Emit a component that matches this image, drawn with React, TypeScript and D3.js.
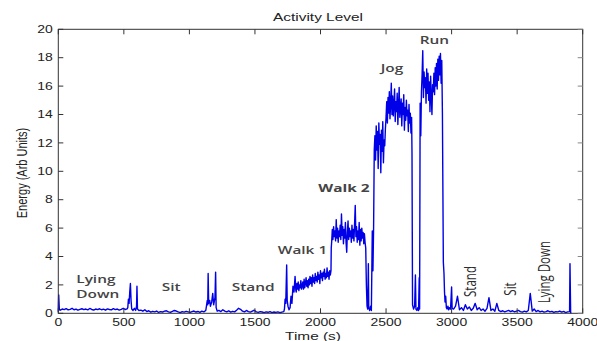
import React from 'react';
import * as d3 from 'd3';

const xTicks = [0, 500, 1000, 1500, 2000, 2500, 3000, 3500, 4000];
const yTicks = [0, 2, 4, 6, 8, 10, 12, 14, 16, 18, 20];

// quiet periods, one value every 15 s
const lyingDown = [0.22, 0.3, 0.26, 0.33, 0.24, 0.28, 0.35, 0.25, 0.3, 0.22, 0.27, 0.32, 0.26, 0.3, 0.24, 0.34, 0.27, 0.23, 0.3, 0.26, 0.32, 0.25, 0.29, 0.22, 0.31, 0.27, 0.24, 0.33, 0.26, 0.3, 0.23, 0.28, 0.35, 0.27, 0.31];
const sit = [0.22, 0.15, 0.25, 0.12, 0.18, 0.08, 0.14, 0.1, 0.16, 0.06, 0.12, 0.09, 0.15, 0.18, 0.1, 0.07, 0.13, 0.2, 0.16, 0.1, 0.05, 0.12, 0.08, 0.14, 0.1, 0.06, 0.12, 0.16, 0.09, 0.13, 0.07, 0.15, 0.1, 0.2];
const stand = [0.2, 0.12, 0.25, 0.15, 0.1, 0.18, 0.08, 0.14, 0.1, 0.22, 0.35, 0.28, 0.15, 0.1, 0.2, 0.12, 0.08, 0.15, 0.22, 0.1, 0.06, 0.12, 0.09, 0.05, 0.1, 0.07, 0.12, 0.05, 0.09, 0.06, 0.1, 0.04, 0.08, 0.12];
const standSitLie = [0.3, 0.5, 1.2, 0.25, 0.4, 0.2, 0.6, 0.3, 0.45, 0.2, 0.35, 0.7, 0.25, 0.4, 0.2, 0.3, 0.15, 0.35, 1.1, 0.2, 0.3, 0.15, 0.7, 0.2, 0.12, 0.18, 0.1, 0.15, 0.2, 0.12, 0.18, 0.1, 0.15, 0.2, 0.12, 0.08, 0.15, 0.1, 0.2, 1.4, 0.15, 0.3, 0.12, 0.2, 0.1, 0.15, 0.08, 0.12, 0.18, 0.1, 0.14, 0.06, 0.12, 0.1, 0.16, 0.08, 0.13, 0.05, 0.1, 0.12];

// active periods, one value every 5 s
const walk1 = [1.5, 2.1, 1.7, 2.2, 1.6, 2.0, 1.8, 2.3, 1.7, 1.95, 2.2, 1.7, 2.4, 1.8, 2.1, 2.5, 1.9, 2.3, 1.8, 2.4, 2.0, 2.6, 2.1, 2.5, 1.9, 2.7, 2.2, 2.5, 2.1, 2.8, 2.3, 2.6, 2.2, 2.9, 2.4, 2.7, 2.1, 3.0, 2.5, 2.8, 2.3, 2.9, 2.6, 3.1, 2.4, 2.8, 2.5, 3.2, 2.6, 2.9, 2.4, 3.0, 2.7];
const walk2 = [5.0, 5.9, 5.2, 6.1, 5.4, 5.8, 5.1, 6.6, 5.3, 6.0, 5.0, 5.8, 5.4, 6.2, 5.2, 7.0, 5.5, 6.1, 4.9, 5.9, 5.3, 6.4, 5.0, 4.3, 5.7, 6.5, 5.2, 6.0, 5.4, 5.8, 5.0, 6.2, 5.3, 5.9, 5.1, 6.3, 7.6, 5.4, 6.1, 5.0, 5.8, 5.2, 6.4, 4.8, 5.9, 5.1, 6.0, 5.3, 5.7, 4.9, 5.6, 5.0];
const jogStart = [12.5, 10.8, 13.2, 11.5, 12.8, 10.2, 13.4, 11.9, 12.6, 9.9, 12.9, 11.4, 13.5, 10.6, 12.2, 11.8, 13.0];
const jog = [13.8, 14.9, 13.4, 15.2, 14.1, 15.6, 13.7, 14.8, 16.2, 14.0, 15.3, 13.9, 14.7, 15.8, 13.5, 14.9, 14.2, 15.5, 13.3, 14.6, 15.9, 13.8, 14.4, 15.1, 13.2, 14.8, 14.0, 15.4, 12.9, 14.5, 13.6, 15.0, 13.9, 14.3, 12.8, 14.7, 13.4, 14.1, 12.7, 13.8];
const run = [15.6, 16.8, 18.5, 15.2, 17.0, 15.9, 16.6, 14.8, 17.2, 15.5, 16.9, 15.0, 16.3, 14.2, 16.7, 15.3, 14.0, 16.1, 15.6, 16.9, 15.4, 17.3, 16.0, 17.6, 15.8, 17.9, 16.4, 18.1, 16.8, 18.3, 16.2, 17.8];

// transitions between activities: [time (s), energy]
const startSpike: [number, number][] = [[0, 0.1], [3, 1.3], [8, 0.25]];
const lieToSit: [number, number][] = [[530, 0.4], [535, 1.0], [540, 0.7], [545, 1.5], [550, 2.1], [555, 0.9], [560, 0.3], [570, 0.2], [580, 0.35], [590, 0.2], [597, 0.5], [600, 1.9], [604, 0.3], [615, 0.2]];
const sitToStand: [number, number][] = [[1130, 0.5], [1136, 0.9], [1140, 0.6], [1143, 2.8], [1147, 0.7], [1155, 0.9], [1160, 0.5], [1170, 0.8], [1178, 1.4], [1185, 0.6], [1195, 1.1], [1200, 2.9], [1204, 0.4], [1212, 0.15]];
const standToWalk: [number, number][] = [[1725, 0.3], [1730, 1.0], [1735, 0.7], [1742, 3.4], [1746, 0.9], [1752, 0.5], [1760, 0.25], [1768, 0.4], [1775, 1.2], [1782, 0.7], [1790, 1.9], [1798, 1.5], [1806, 2.6], [1812, 1.6]];
const walk1ToWalk2: [number, number][] = [[2080, 3.0], [2082, 4.6]];
const walk2ToJog: [number, number][] = [[2345, 4.6], [2350, 2.0], [2355, 0.5], [2360, 0.3], [2365, 3.5], [2368, 0.4], [2375, 0.2], [2382, 0.5], [2388, 0.2], [2395, 5.8], [2400, 3.0], [2405, 6.0], [2410, 11.5]];
const jogToRun: [number, number][] = [[2698, 11.2], [2702, 0.6], [2710, 0.3], [2718, 0.5], [2724, 2.7], [2728, 0.3], [2735, 0.2], [2742, 0.4], [2748, 0.2], [2753, 2.5], [2756, 0.3], [2760, 14.8], [2765, 12.5]];
const runToRest: [number, number][] = [[2930, 14.0], [2937, 3.6], [2942, 2.8], [2946, 1.5], [2950, 0.8], [2955, 1.2], [2960, 0.4], [2965, 0.3], [2972, 0.5], [2978, 0.25], [2985, 0.4], [2992, 0.3], [3000, 1.85], [3004, 0.35]];
const endSpike: [number, number][] = [[3903, 3.5], [3908, 0.05], [3912, 0.0]];

const labels = [
  { text: 'Lying', t: 137, v: 2.13, weight: 600 },
  { text: 'Down', t: 137, v: 1.08, weight: 600 },
  { text: 'Sit', t: 861, v: 1.59, weight: 600 },
  { text: 'Stand', t: 1486, v: 1.59, weight: 600 },
  { text: 'Walk 1', t: 1863, v: 4.18, weight: 600 },
  { text: 'Walk 2', t: 2179, v: 8.56, weight: 700 },
  { text: 'Jog', t: 2545, v: 17.0, weight: 600 },
  { text: 'Run', t: 2869, v: 18.96, weight: 600 },
];
const sideLabels = [
  { text: 'Stand', t: 3189, v: 2.24 },
  { text: 'Sit', t: 3493, v: 1.71 },
  { text: 'Lying Down', t: 3749, v: 2.9 },
];

function regular(values: number[], start: number, step: number): [number, number][] {
  return values.map((v, i) => [start + i * step, v]);
}

const series: [number, number][] = [
  ...startSpike,
  ...regular(lyingDown, 15, 15),
  ...lieToSit,
  ...regular(sit, 630, 15),
  ...sitToStand,
  ...regular(stand, 1225, 15),
  ...standToWalk,
  ...regular(walk1, 1815, 5),
  ...walk1ToWalk2,
  ...regular(walk2, 2085, 5),
  ...walk2ToJog,
  ...regular(jogStart, 2415, 5),
  ...regular(jog, 2500, 5),
  ...jogToRun,
  ...regular(run, 2770, 5),
  ...runToRest,
  ...regular(standSitLie, 3015, 15),
  ...endSpike,
];

const SX = 1.4; // the picture is stretched sideways

export default function App() {
  const width = 597;
  const height = 341;
  const left = 58.3, right = 582.7, top = 29.3, bottom = 313.3;

  const x = d3.scaleLinear().domain([0, 4000]).range([left, right]);
  const y = d3.scaleLinear().domain([0, 20]).range([bottom, top]);
  const line = d3.line<[number, number]>().x(d => x(d[0])).y(d => y(d[1]));

  const axisFont = '"Liberation Sans", Arial, sans-serif';
  const noteFont = '"Open Sans", "Noto Sans", sans-serif';

  return (
    <div style={{ position: 'fixed', left: 0, top: 0 }}>
      <svg width={width} height={height} style={{ display: 'block', background: '#fff' }}>
        <rect x={left} y={top} width={right - left} height={bottom - top} fill="#fff" />
        <path d={line(series) ?? ''} fill="none" stroke="#0000e8" strokeWidth={1.4} strokeLinejoin="round" />

        {/* box and ticks */}
        <rect x={left} y={top} width={right - left} height={bottom - top} fill="none" stroke="#333" strokeWidth={1} />
        {xTicks.map(t => (
          <g key={'x' + t}>
            <line x1={x(t)} x2={x(t)} y1={bottom} y2={bottom - 5} stroke="#333" />
            <line x1={x(t)} x2={x(t)} y1={top} y2={top + 5} stroke="#333" />
            <text fontFamily={axisFont} fontSize={10} fill="#222" textAnchor="middle"
              transform={`translate(${x(t)},${bottom + 13}) scale(${SX},1)`}>{t}</text>
          </g>
        ))}
        {yTicks.map(v => (
          <g key={'y' + v}>
            <line x1={left} x2={left + 5} y1={y(v)} y2={y(v)} stroke="#333" />
            <line x1={right} x2={right - 5} y1={y(v)} y2={y(v)} stroke="#888" />
            <text fontFamily={axisFont} fontSize={10} fill="#222" textAnchor="end"
              transform={`translate(${left - 5.5},${y(v) + 3.6}) scale(${SX},1)`}>{v}</text>
          </g>
        ))}

        <text fontFamily={axisFont} fontSize={11} fill="#222" textAnchor="middle"
          transform={`translate(318,21) scale(${SX},1)`}>Activity Level</text>
        <text fontFamily={axisFont} fontSize={11} fill="#222" textAnchor="middle"
          transform={`translate(313,339.5) scale(${SX},1)`}>Time (s)</text>
        <text fontFamily={axisFont} fontSize={11} fill="#222" textAnchor="middle"
          transform={`translate(26.5,173) scale(${SX},1) rotate(-90)`}>Energy (Arb Units)</text>

        {labels.map((l, i) => (
          <text key={'l' + i} fontFamily={noteFont} fontSize={11} fontWeight={l.weight} fill="#444"
            textAnchor={i < 2 ? 'start' : 'middle'}
            transform={`translate(${x(l.t)},${y(l.v)}) scale(${SX},1)`}>{l.text}</text>
        ))}
        {sideLabels.map((l, i) => (
          <text key={'s' + i} fontFamily={noteFont} fontSize={11.5} fill="#2a2a2a" textAnchor="middle"
            transform={`translate(${x(l.t)},${y(l.v)}) scale(${SX},1) rotate(-90)`}>{l.text}</text>
        ))}
      </svg>
    </div>
  );
}
